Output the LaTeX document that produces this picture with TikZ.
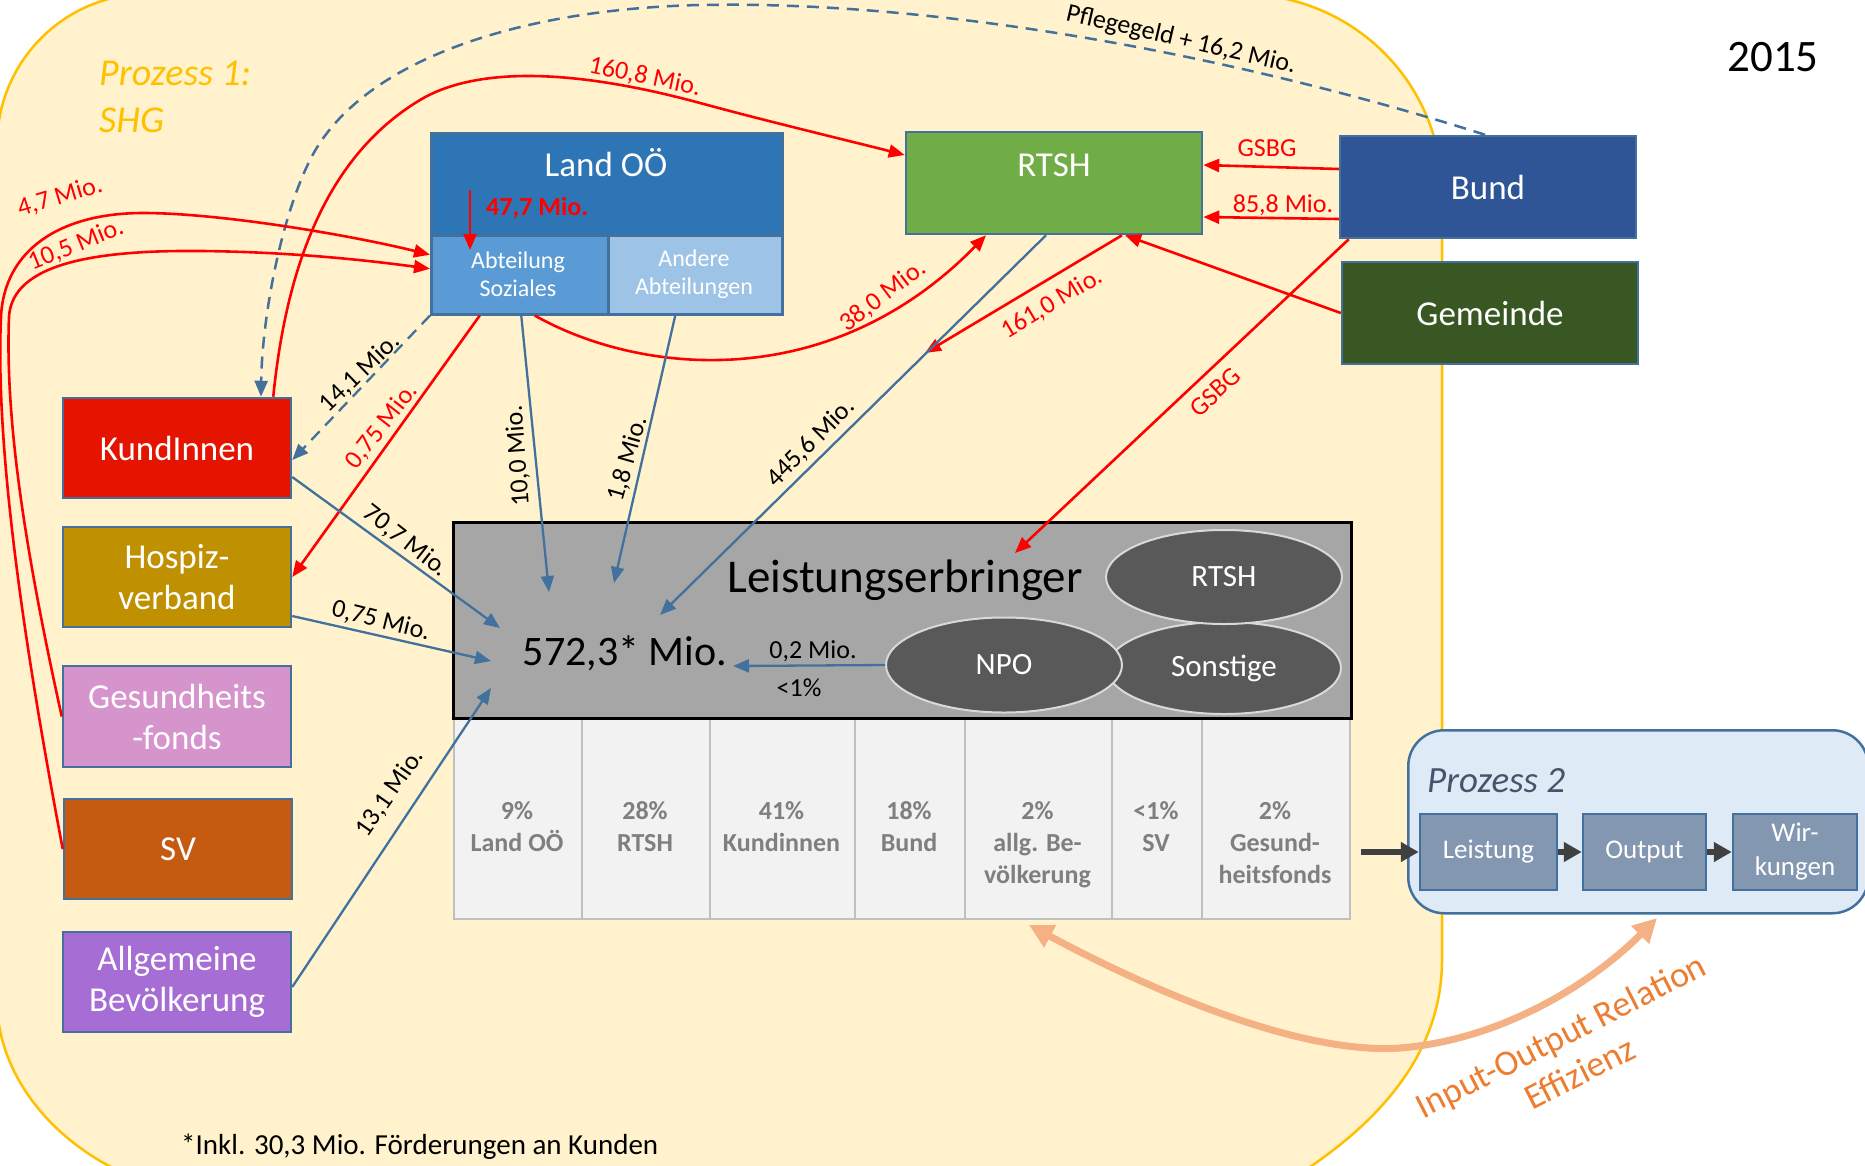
\documentclass[tikz,border=0pt]{standalone}
\usepackage{fontspec}
\setmainfont{Carlito}
\usetikzlibrary{arrows.meta,shapes.geometric,calc}

\definecolor{ybg}{HTML}{FFF2CC}
\definecolor{ygold}{HTML}{FFC000}
\definecolor{bord}{HTML}{41719C}
\definecolor{bluel}{HTML}{41719C}
\definecolor{landc}{HTML}{2E75B6}
\definecolor{abtc}{HTML}{5B9BD5}
\definecolor{andc}{HTML}{9DC3E6}
\definecolor{rtshc}{HTML}{70AD47}
\definecolor{bundc}{HTML}{2F5597}
\definecolor{gemc}{HTML}{385723}
\definecolor{kundc}{HTML}{E41400}
\definecolor{hospc}{HTML}{BF9000}
\definecolor{gfc}{HTML}{D594CC}
\definecolor{svc}{HTML}{C55A11}
\definecolor{allgc}{HTML}{A66DD4}
\definecolor{legrey}{HTML}{A6A6A6}
\definecolor{ellc}{HTML}{595959}
\definecolor{ellb}{HTML}{D9D9D9}
\definecolor{cellc}{HTML}{F2F2F2}
\definecolor{cellb}{HTML}{BFBFBF}
\definecolor{celltxt}{HTML}{7F7F7F}
\definecolor{p2fill}{HTML}{DEEBF7}
\definecolor{p2box}{HTML}{8497B0}
\definecolor{p2txt}{HTML}{44546A}
\definecolor{darkarr}{HTML}{404040}
\definecolor{orarr}{HTML}{F4B183}
\definecolor{ortxt}{HTML}{ED7D31}
\definecolor{redl}{HTML}{FF0000}

\tikzset{
 ebox/.style={draw=bord, line width=2.5pt, inner sep=0pt, text=white, align=center, font=\fontsize{35}{41}\selectfont},
 bluarr/.style={draw=bluel, line width=2.3pt, -{Triangle[length=16pt,width=13pt]}},
 redarr/.style={draw=redl, line width=2.6pt, -{Triangle[length=16pt,width=13pt]}},
 lab/.style={font=\fontsize{26}{30}\selectfont, inner sep=0pt},
 redlab/.style={lab, text=redl},
 cellbox/.style={draw=cellb, fill=cellc, line width=1.5pt, inner sep=0pt, anchor=north west, minimum height=200pt},
 celltext/.style={font=\bfseries\fontsize{26}{32}\selectfont, text=celltxt, align=center, anchor=north, inner sep=0pt},
 ell/.style={ellipse, draw=ellb, fill=ellc, line width=2pt, inner sep=0pt, text=white, font=\fontsize{31}{36}\selectfont},
 pbox/.style={draw=bord, fill=p2box, line width=2.5pt, inner sep=0pt, text=white, align=center, font=\fontsize{27}{34}\selectfont, minimum height=76pt},
 darr/.style={draw=darkarr, line width=6pt, -{Triangle[length=18pt,width=19pt]}},
}

\begin{document}
\begin{tikzpicture}[x=1pt,y=-1pt]
\useasboundingbox (0,0) rectangle (1865,1165);
\fill[white] (0,0) rectangle (1865,1165);

% Prozess 1 region
\path[fill=ybg, draw=ygold, line width=2.5pt]
 (-3,1000) -- (-3,145) .. controls (-3,62) and (64,-6) .. (147,-6)
 -- (1241,-6) .. controls (1352,-6) and (1442,82) .. (1442,193)
 -- (1442,960) .. controls (1442,1060) and (1370,1130) .. (1290,1180)
 -- (140,1180) .. controls (60,1150) and (-3,1080) .. (-3,1000) -- cycle;

\node[font=\itshape\fontsize{38}{47}\selectfont, text=ygold, align=left, anchor=west, inner sep=0pt] (p1t) at (99,97) {Prozess 1:\\SHG};
\node[font=\fontsize{45}{50}\selectfont, inner sep=0pt] (year) at (1773,57) {2015};

% Land OOE
\node[ebox, fill=landc, minimum width=351pt, minimum height=181pt, anchor=north west] (land) at (430,132) {};
\node[ebox, fill=abtc, minimum width=177pt, minimum height=79pt, anchor=north west] (abt) at (430,234) {};
\node[ebox, fill=andc, minimum width=174pt, minimum height=79pt, anchor=north west] (andere) at (607,234) {};
\node[font=\fontsize{35}{41}\selectfont, text=white, inner sep=0pt] (landt) at (606,163) {Land OÖ};
\node[font=\bfseries\fontsize{26}{30}\selectfont, text=redl, inner sep=0pt, anchor=west] (m47) at (486,208) {47,7 Mio.};
\node[font=\fontsize{24}{28}\selectfont, text=white, align=center, inner sep=0pt] (abtt) at (518,274) {Abteilung\\Soziales};
\node[font=\fontsize{24}{28}\selectfont, text=white, align=center, inner sep=0pt] (andt) at (694,274) {Andere\\Abteilungen};

% RTSH, Bund, Gemeinde
\node[ebox, fill=rtshc, minimum width=296pt, minimum height=102pt] (rtsh) at (1054,183) {};
\node[font=\fontsize{35}{41}\selectfont, text=white, inner sep=0pt] (rtsht) at (1054,165) {RTSH};
\node[ebox, fill=bundc, minimum width=296pt, minimum height=102pt] (bund) at (1488,187) {Bund};
\node[ebox, fill=gemc, minimum width=296pt, minimum height=102pt] (gem) at (1490,313) {Gemeinde};

% left column
\node[ebox, fill=kundc, minimum width=228pt, minimum height=100pt] (kund) at (177,448) {KundInnen};
\node[ebox, fill=hospc, minimum width=228pt, minimum height=100pt] (hosp) at (177,577) {Hospiz-\\verband};
\node[ebox, fill=gfc, minimum width=228pt, minimum height=101pt] (gf) at (177,716.5) {Gesundheits\\-fonds};
\node[ebox, fill=svc, minimum width=228pt, minimum height=100pt] (sv) at (178,849) {SV};
\node[ebox, fill=allgc, minimum width=228pt, minimum height=100pt] (allg) at (177,982) {Allgemeine\\Bevölkerung};

% table
\node[cellbox, minimum width=128pt] (c1) at (453,718) {};
\node[cellbox, minimum width=128pt] (c2) at (581,718) {};
\node[cellbox, minimum width=145pt] (c3) at (709,718) {};
\node[cellbox, minimum width=110pt] (c4) at (854,718) {};
\node[cellbox, minimum width=147pt] (c5) at (964,718) {};
\node[cellbox, minimum width=90pt] (c6) at (1111,718) {};
\node[cellbox, minimum width=148pt] (c7) at (1201,718) {};
\node[celltext] (t1) at (517,801) {9\%\\Land OÖ};
\node[celltext] (t2) at (645,801) {28\%\\RTSH};
\node[celltext] (t3) at (781.5,801) {41\%\\Kundinnen};
\node[celltext] (t4) at (909,801) {18\%\\Bund};
\node[celltext] (t5) at (1037.5,801) {2\%\\allg. Be-\\völkerung};
\node[celltext] (t6) at (1156,801) {<1\%\\SV};
\node[celltext] (t7) at (1275,801) {2\%\\Gesund-\\heitsfonds};

% Leistungserbringer
\node[draw=black, fill=legrey, line width=3pt, minimum width=898pt, minimum height=196pt, inner sep=0pt] (le) at (902,620) {};
\node[font=\fontsize{47}{52}\selectfont, inner sep=0pt] (let) at (905,580) {Leistungserbringer};
\node[font=\fontsize{42}{48}\selectfont, inner sep=0pt] (sum) at (625,653) {572,3* Mio.};
\node[ell, minimum width=234pt, minimum height=92pt] (sonst) at (1224,668) {Sonstige};
\node[ell, minimum width=236pt, minimum height=94pt] (ertsh) at (1224,577) {RTSH};
\node[ell, minimum width=236pt, minimum height=95pt] (npo) at (1004,665) {NPO};

% Prozess 2
\node[draw=bord, fill=p2fill, line width=2.5pt, rounded corners=36pt, minimum width=460pt, minimum height=183pt, inner sep=0pt, anchor=north west] (p2) at (1407,729) {};
\node[font=\itshape\fontsize{37}{44}\selectfont, text=p2txt, anchor=west, inner sep=0pt] (p2t) at (1427,781) {Prozess 2};
\node[pbox, minimum width=137pt] (leist) at (1488.5,852) {Leistung};
\node[pbox, minimum width=123pt] (outp) at (1644.5,852) {Output};
\node[pbox, minimum width=124pt] (wirk) at (1795,852) {Wir-\\kungen};

% coordinates
\coordinate (a10) at (549,592);
\coordinate (a18) at (614,583);
\coordinate (a445) at (660,615);
\coordinate (a70) at (500,628);
\coordinate (a075) at (491,661);
\coordinate (a131) at (491,688);
\coordinate (a02) at (733,666);
\coordinate (ag) at (1015,553);
\coordinate (a161) at (925,353);
\coordinate (a47s) at (470,190);
\coordinate (a47e) at (470,250);
\coordinate (p2in) at (1361,852);
\coordinate (io1) at (1029,925);
\coordinate (io2) at (1657,918);

% connectors
\draw[bluel, line width=2.5pt, dash pattern=on 12pt off 8pt, -{Triangle[length=16pt,width=13pt]}]
 ([xshift=-3pt]bund.north) .. controls (1250,60) and (950,0) .. (700,5)
 .. controls (520,9) and (360,60) .. (310,160)
 .. controls (280,220) and (262,320) .. ([xshift=84pt]kund.north);
\draw[redarr] ([xshift=-19pt]kund.north east) .. controls (285,280) and (320,160) .. (420,100)
 .. controls (470,70) and (560,65) .. (700,103)
 .. controls (770,122) and (850,141) .. ([yshift=28pt]rtsh.west);
\draw[redarr] (sv.west) .. controls (25,650) and (-5,450) .. (1,317)
 .. controls (4,250) and (60,213) .. (143,213)
 .. controls (220,213) and (350,235) .. ([yshift=20pt]abt.west);
\draw[redarr] (gf.west) .. controls (25,550) and (5,420) .. (9,317)
 .. controls (12,262) and (100,250) .. (201,251)
 .. controls (300,252) and (380,262) .. ([yshift=6pt]abt.west);
\draw[redarr] (a47s) -- (a47e);
\draw[redarr] ([xshift=15pt]abt.south) .. controls (640,375) and (830,395) .. ([xshift=-68pt]rtsh.south);
\draw[redarr] ([xshift=68pt]rtsh.south) -- (a161);
\draw[redarr] (gem.west) -- ([xshift=71pt]rtsh.south);
\draw[redarr] ([yshift=18pt]bund.west) -- ([yshift=18pt]rtsh.east);
\draw[redarr] ([yshift=-32pt]bund.west) -- ([yshift=-34pt]rtsh.east);
\draw[redarr] ([xshift=10pt]bund.south west) -- (ag);
\draw[redarr] ([xshift=-40pt]abt.south) -- (hosp.east);
\draw[bluel, line width=2.3pt, dash pattern=on 12pt off 8pt, -{Triangle[length=16pt,width=13pt]}] (abt.south west) -- ([yshift=-12pt]kund.east);
\draw[bluarr] ([xshift=1.5pt]abt.south) -- (a10);
\draw[bluarr] ([xshift=-20pt]andere.south) -- (a18);
\draw[bluarr] ([xshift=-8pt]rtsh.south) -- (a445);
\draw[bluarr] ([yshift=-29pt]kund.east) -- (a70);
\draw[bluarr] ([yshift=-39pt]hosp.east) -- (a075);
\draw[bluarr] ([yshift=-5pt]allg.east) -- (a131);
\draw[bluarr] (npo.west) -- (a02);

\draw[darr] (p2in) -- (leist.west);
\draw[darr] (leist.east) -- (outp.west);
\draw[darr] (outp.east) -- (wirk.west);

\draw[orarr, line width=7pt, {Triangle[length=24pt,width=24pt]}-{Triangle[length=24pt,width=24pt]}]
 (io1) .. controls (1150,990) and (1300,1055) .. (1400,1048)
 .. controls (1500,1040) and (1590,985) .. (io2);

% labels
\node[redlab, rotate=-12] (l1608) at (645,77) {160,8 Mio.};
\node[lab, rotate=-13] (lpf) at (1181,40) {Pflegegeld + 16,2 Mio.};
\node[redlab, rotate=17] (l47) at (60,197) {4,7 Mio.};
\node[redlab, rotate=22] (l105) at (76,245) {10,5 Mio.};
\node[redlab, rotate=37] (l38) at (883,296) {38,0 Mio.};
\node[redlab, rotate=31] (l161) at (1052,304) {161,0 Mio.};
\node[redlab] (lgs1) at (1267,148) {GSBG};
\node[redlab] (l858) at (1283,205) {85,8 Mio.};
\node[redlab, rotate=43] (lgs2) at (1215,392) {GSBG};
\node[redlab, rotate=52] (l075r) at (382,426) {0,75 Mio.};
\node[lab, rotate=44] (l141) at (360,373) {14,1 Mio.};
\node[lab, rotate=94] (l100) at (518,456) {10,0 Mio.};
\node[lab, rotate=74] (l18) at (628,459) {1,8 Mio.};
\node[lab, rotate=-38] (l707) at (406,541) {70,7 Mio.};
\node[lab, rotate=-14] (l075b) at (381,621) {0,75 Mio.};
\node[lab, rotate=55] (l131) at (390,793) {13,1 Mio.};
\node[lab, rotate=45] (l4456) at (811,443) {445,6 Mio.};
\node[lab] (l02) at (813,651) {0,2 Mio.};
\node[lab] (l1p) at (799,688) {<1\%};

\node[font=\fontsize{36}{42}\selectfont, text=ortxt, align=center, rotate=27, inner sep=0pt] (iot) at (1570,1054) {Input-Output Relation\\Effizienz};
\node[font=\fontsize{29}{33}\selectfont, anchor=west, inner sep=0pt] (foot) at (181,1147) {*Inkl. 30,3 Mio. Förderungen an Kunden};
\end{tikzpicture}
\end{document}
